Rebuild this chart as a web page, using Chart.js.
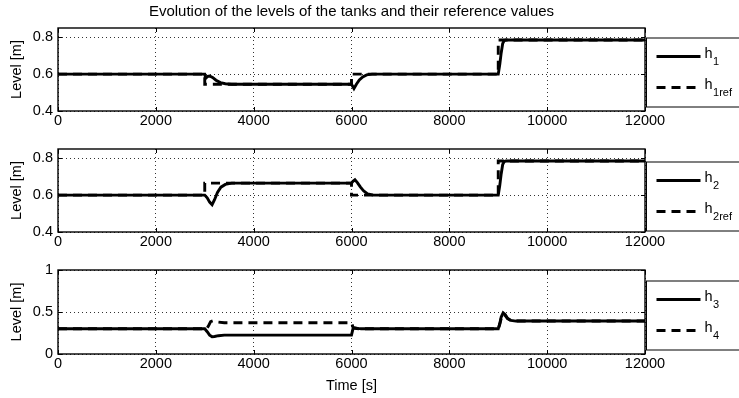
<!DOCTYPE html>
<html>
<head>
<meta charset="utf-8">
<title>Tank levels</title>
<script src="https://cdn.jsdelivr.net/npm/chart.js@4/dist/chart.umd.min.js"></script>
<style>
  html, body { margin: 0; padding: 0; background: #fff; }
  #wrap { position: relative; width: 739px; height: 398px; overflow: hidden; }
  canvas { position: absolute; left: 0; display: block; }
</style>
</head>
<body>
<div id="wrap">
  <canvas id="c1" width="739" height="132" style="top:0px"></canvas>
  <canvas id="c2" width="739" height="120" style="top:132px"></canvas>
  <canvas id="c3" width="739" height="146" style="top:252px"></canvas>
</div>
<script>
// ---- tick values -------------------------------------------------------
const timeTicks = [0, 2000, 4000, 6000, 8000, 10000, 12000];
const levelTicksUpper = [0.4, 0.6, 0.8];
const levelTicksLower = [0, 0.5, 1];

// ---- tank 1 ------------------------------------------------------------
const h1Time  = [0, 3000, 3020, 3060, 3100, 3160, 3230, 3320, 3420, 3550,
                 6000, 6050, 6100, 6160, 6230, 6310, 6420,
                 9000, 9030, 9060, 9090, 9120, 9160, 12000];
const h1Level = [0.600, 0.600, 0.578, 0.588, 0.590, 0.582, 0.567, 0.554, 0.548, 0.545,
                 0.545, 0.522, 0.545, 0.568, 0.585, 0.596, 0.600,
                 0.600, 0.650, 0.715, 0.765, 0.782, 0.785, 0.785];
const h1refTime  = [0, 3000, 3000, 6000, 6000, 9000, 9000, 12000];
const h1refLevel = [0.600, 0.600, 0.545, 0.545, 0.600, 0.600, 0.785, 0.785];

// ---- tank 2 ------------------------------------------------------------
const h2Time  = [0, 3000, 3050, 3100, 3150, 3200, 3260, 3330, 3420, 3550,
                 6000, 6030, 6070, 6120, 6180, 6250, 6330, 6450,
                 9000, 9030, 9060, 9090, 9120, 9160, 12000];
const h2Level = [0.600, 0.600, 0.585, 0.562, 0.548, 0.575, 0.615, 0.643, 0.658, 0.665,
                 0.665, 0.675, 0.683, 0.668, 0.645, 0.622, 0.607, 0.600,
                 0.600, 0.650, 0.715, 0.765, 0.782, 0.785, 0.785];
const h2refTime  = [0, 3000, 3000, 6000, 6000, 9000, 9000, 12000];
const h2refLevel = [0.600, 0.600, 0.665, 0.665, 0.600, 0.600, 0.785, 0.785];

// ---- tanks 3 and 4 -----------------------------------------------------
const h3Time  = [0, 3000, 3050, 3100, 3150, 3200, 3280, 3400,
                 6000, 6030, 6070, 6120, 6200,
                 9000, 9030, 9060, 9100, 9140, 9190, 9260, 9360, 12000];
const h3Level = [0.300, 0.300, 0.265, 0.225, 0.205, 0.208, 0.218, 0.225,
                 0.225, 0.300, 0.312, 0.305, 0.300,
                 0.300, 0.360, 0.440, 0.490, 0.470, 0.425, 0.400, 0.392, 0.392];
const h4Time  = [0, 3000, 3040, 3080, 3120, 3170, 3250, 3400,
                 6000, 6030, 6070, 6150,
                 9000, 9030, 9060, 9100, 9140, 9190, 9260, 9360, 12000];
const h4Level = [0.300, 0.300, 0.300, 0.340, 0.385, 0.395, 0.382, 0.372,
                 0.372, 0.320, 0.305, 0.300,
                 0.300, 0.350, 0.425, 0.475, 0.460, 0.420, 0.398, 0.392, 0.392];

const FONT = '"Liberation Sans", Arial, Helvetica, sans-serif';
const LINE_W = 2.9;

function points(t, v) { return t.map((x, i) => ({ x: x, y: v[i] })); }

function solid(label, t, v) {
  return { label, data: points(t, v), borderColor: '#000', borderWidth: LINE_W,
           pointRadius: 0, fill: false, tension: 0 };
}
function dashed(label, t, v) {
  return { label, data: points(t, v), borderColor: '#000', borderWidth: LINE_W,
           borderDash: [9, 6], pointRadius: 0, fill: false, tension: 0 };
}

// Axes box, inward tick marks and the boxed legend to the right of the axes
const framePlugin = {
  id: 'frame',
  afterDraw(chart, args, opts) {
    const { ctx, chartArea: a, scales } = chart;
    const x = scales.x, y = scales.y;
    ctx.save();
    ctx.setLineDash([]);
    ctx.strokeStyle = '#000';

    // tick marks pointing into the axes
    ctx.lineWidth = 1;
    const L = 4;
    ctx.beginPath();
    x.ticks.forEach(t => {
      const px = Math.round(x.getPixelForValue(t.value)) + 0.5;
      ctx.moveTo(px, a.bottom); ctx.lineTo(px, a.bottom - L);
      ctx.moveTo(px, a.top);    ctx.lineTo(px, a.top + L);
    });
    y.ticks.forEach(t => {
      const py = Math.round(y.getPixelForValue(t.value)) + 0.5;
      ctx.moveTo(a.left, py);  ctx.lineTo(a.left + L, py);
      ctx.moveTo(a.right, py); ctx.lineTo(a.right - L, py);
    });
    ctx.stroke();

    // axes box
    ctx.lineWidth = 1.4;
    ctx.strokeRect(a.left, a.top, a.right - a.left, a.bottom - a.top);

    // legend
    const boxL = a.right + 1.5;
    const boxT = opts.top;
    ctx.lineWidth = 1;
    ctx.strokeRect(boxL, boxT, 120, 69);
    const rows = [boxT + 18.5, boxT + 49.5];
    chart.data.datasets.forEach((ds, i) => {
      const ry = rows[i];
      ctx.lineWidth = LINE_W;
      ctx.setLineDash(ds.borderDash || []);
      ctx.beginPath();
      ctx.moveTo(boxL + 10, ry);
      ctx.lineTo(boxL + 54, ry);
      ctx.stroke();
      ctx.setLineDash([]);
      ctx.fillStyle = '#000';
      ctx.textAlign = 'left';
      ctx.textBaseline = 'alphabetic';
      ctx.font = '14.5px ' + FONT;
      const base = ds.label.slice(0, 1);
      const sub = ds.label.slice(1);
      ctx.fillText(base, boxL + 58, ry + 1);
      const w = ctx.measureText(base).width;
      ctx.font = '11px ' + FONT;
      ctx.fillText(sub, boxL + 58 + w + 0.5, ry + 8);
    });
    ctx.restore();
  }
};

function makeChart(id, datasets, cfg) {
  const yTicks = cfg.yTicks;
  return new Chart(document.getElementById(id), {
    type: 'line',
    data: { datasets },
    plugins: [framePlugin],
    options: {
      responsive: false,
      animation: false,
      devicePixelRatio: 1,
      layout: { padding: { top: cfg.padTop, right: 94, bottom: 0, left: 0 } },
      plugins: {
        legend: { display: false },
        tooltip: { enabled: false },
        frame: { top: cfg.legendTop },
        title: cfg.title ? {
          display: true, text: cfg.title, fullSize: false, color: '#000',
          font: { family: FONT, size: 15, weight: 'normal' },
          padding: { top: 3, bottom: 7 }
        } : { display: false }
      },
      scales: {
        x: {
          type: 'linear', min: 0, max: 12000,
          afterBuildTicks: s => { s.ticks = timeTicks.map(v => ({ value: v })); },
          afterFit: s => { s.height = cfg.xHeight; },
          grid: { color: 'rgba(0,0,0,0.8)', lineWidth: 1, drawTicks: false },
          border: { display: false, dash: [1, 3] },
          ticks: { color: '#000', font: { family: FONT, size: 14.5 }, padding: 1,
                   maxRotation: 0, autoSkip: false, callback: v => String(v) },
          title: cfg.xTitle ? { display: true, text: cfg.xTitle, color: '#000',
                   font: { family: FONT, size: 14.5 }, padding: { top: 0, bottom: 3 } }
                 : { display: false }
        },
        y: {
          type: 'linear', min: cfg.yMin, max: cfg.yMax,
          afterBuildTicks: s => { s.ticks = yTicks.map(v => ({ value: v })); },
          afterFit: s => { s.width = 58; },
          grid: { color: 'rgba(0,0,0,0.8)', lineWidth: 1, drawTicks: false },
          border: { display: false, dash: [1, 3] },
          ticks: { color: '#000', font: { family: FONT, size: 14.5 }, padding: 5,
                   callback: v => String(v) },
          title: { display: true, text: 'Level [m]', color: '#000',
                   font: { family: FONT, size: 14.5 }, padding: { top: 8.3, bottom: 0 } }
        }
      }
    }
  });
}

makeChart('c1', [solid('h1', h1Time, h1Level), dashed('h1ref', h1refTime, h1refLevel)], {
  title: 'Evolution of the levels of the tanks and their reference values',
  padTop: 0, xHeight: 21, yMin: 0.4, yMax: 0.85, yTicks: levelTicksUpper, legendTop: 38
});
makeChart('c2', [solid('h2', h2Time, h2Level), dashed('h2ref', h2refTime, h2refLevel)], {
  padTop: 17, xHeight: 20, yMin: 0.4, yMax: 0.85, yTicks: levelTicksUpper, legendTop: 30
});
makeChart('c3', [solid('h3', h3Time, h3Level), dashed('h4', h4Time, h4Level)], {
  padTop: 18, xHeight: 44, yMin: 0, yMax: 1, yTicks: levelTicksLower, legendTop: 29,
  xTitle: 'Time [s]'
});
</script>
</body>
</html>
